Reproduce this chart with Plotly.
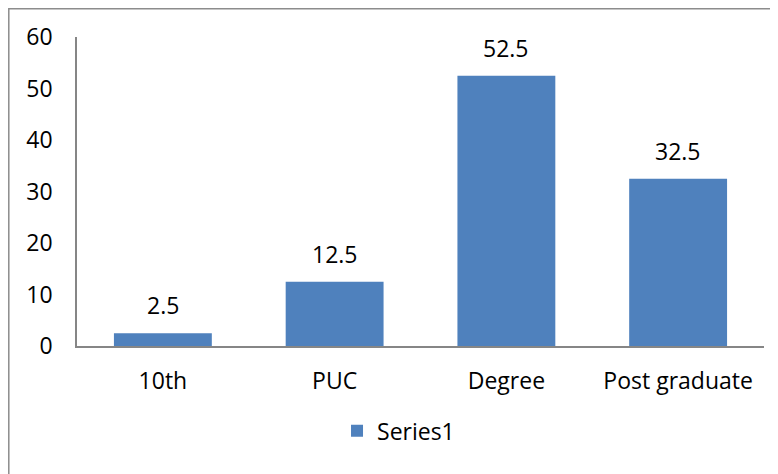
import plotly.graph_objects as go

categories = ["10th", "PUC", "Degree", "Post graduate"]
values = [2.5, 12.5, 52.5, 32.5]
series_name = "Series1"
y_ticks = [0, 10, 20, 30, 40, 50, 60]

W, H = 778, 474
L, R, T, B = 69, 22, 29, 136
pw, ph = W - L - R, H - T - B

font = dict(family="Open Sans, Noto Sans, sans-serif", size=23, color="#000000")

fig = go.Figure()
fig.add_trace(go.Bar(
    x=categories, y=values, name=series_name,
    marker=dict(color="#4F81BD", line=dict(width=0)),
    showlegend=True,
))

for c, v in zip(categories, values):
    fig.add_annotation(x=c, y=v, text=f"{v:g}", showarrow=False,
                       yshift=28, font=font, xref="x", yref="y")

fig.update_layout(
    width=W, height=H,
    margin=dict(l=L, r=R, t=T, b=B, autoexpand=False),
    paper_bgcolor="white", plot_bgcolor="white",
    font=font,
    bargap=0.43,
    showlegend=True,
    legend=dict(orientation="h", x=0.468, xanchor="center", y=-0.205, yanchor="top",
                font=font, itemwidth=30),
    xaxis=dict(showline=True, linecolor="#868686", linewidth=1.5, ticks="",
               showgrid=False, ticklabelstandoff=14, tickfont=font, automargin=False),
    yaxis=dict(range=[0, 60], tickvals=y_ticks, showline=True, linecolor="#868686",
               linewidth=1.5, ticks="", showgrid=False, zeroline=False,
               ticklabelstandoff=18, tickfont=font, automargin=False),
    shapes=[dict(type="rect", xref="paper", yref="paper",
                 x0=(0.8 - L) / pw, x1=2.0, y0=-2.0, y1=1 + (T - 0.8) / ph,
                 line=dict(color="#8c8c8c", width=1.5), fillcolor="rgba(0,0,0,0)",
                 layer="below")],
)

fig.write_html("out.html")
